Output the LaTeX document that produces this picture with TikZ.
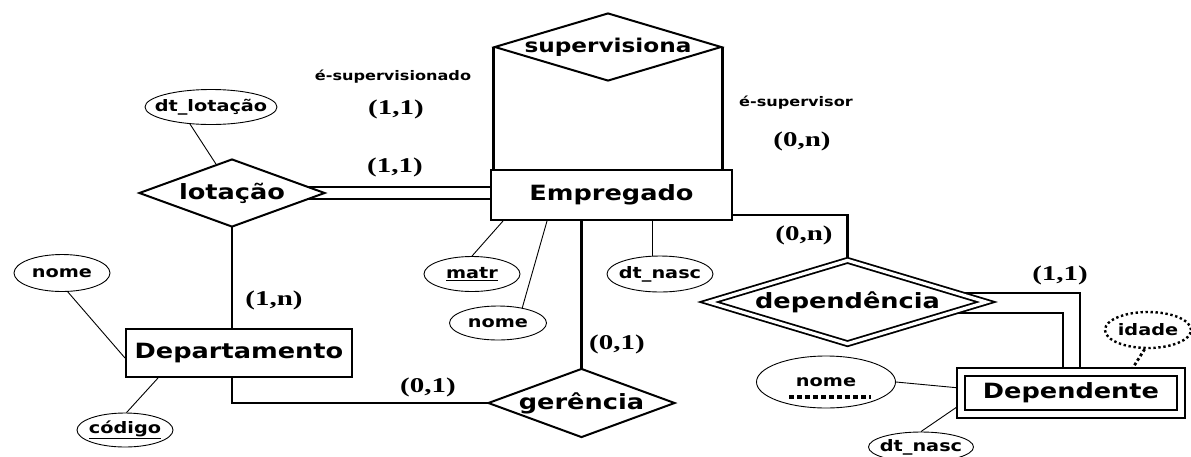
\documentclass[tikz,border=0pt]{standalone}
\usepackage{fontspec}
\usetikzlibrary{shapes.geometric,backgrounds}
\newfontfamily\ersans[FakeStretch=1.22]{DejaVu Sans}
\newfontfamily\erserif[FakeStretch=1.38]{Liberation Serif}
\tikzset{
 ent/.style={draw, line width=2pt, fill=white, inner sep=0pt, font=\ersans\bfseries\fontsize{21}{24}\selectfont},
 rel/.style={diamond, draw, line width=2pt, fill=white, inner sep=0pt, font=\ersans\bfseries\fontsize{21}{24}\selectfont},
 attr/.style={ellipse, draw, line width=0.9pt, fill=white, inner sep=0pt, font=\ersans\bfseries\fontsize{15.8}{18}\selectfont},
 card/.style={inner sep=0pt, font=\erserif\bfseries\fontsize{21}{24}\selectfont},
 role/.style={inner sep=0pt, font=\ersans\bfseries\fontsize{13.2}{15}\selectfont},
 conn/.style={line width=2.2pt},
 alink/.style={line width=0.9pt},
 weakrel/.style={double, double distance=3.2pt, line width=1.8pt},
 weakent/.style={double, double distance=6pt, line width=1.9pt},
 dotline/.style={line width=2.8pt, dash pattern=on 2.8pt off 2.6pt},
 dotattr/.style={line width=2.4pt, dash pattern=on 2.4pt off 2.6pt}
}
\begin{document}
\begin{tikzpicture}[x=1pt,y=-1pt]
\useasboundingbox (0,0) rectangle (1191,456);
% entities and relationships
\node[rel, minimum width=227pt, minimum height=68pt, font=\ersans\bfseries\fontsize{19}{22}\selectfont] (sup) at (608,47) {\makebox[0pt]{supervisiona}};
\node[ent, minimum width=241pt, minimum height=50pt] (emp) at (611.5,195) {Empregado};
\node[rel, minimum width=186pt, minimum height=68pt] (lot) at (232,193) {\makebox[0pt]{lotação}};
\node[ent, minimum width=226pt, minimum height=48pt] (dept) at (239,353) {Departamento};
\node[rel, minimum width=187pt, minimum height=69pt] (ger) at (581.5,403) {\makebox[0pt]{gerência}};
\node[rel, weakrel, minimum width=278pt, minimum height=84pt] (dep) at (847.5,302) {\makebox[0pt]{dependência}};
\node[ent, weakent, minimum width=220.5pt, minimum height=41.5pt] (dnt) at (1071,393) {Dependente};
% attributes
\node[attr, minimum width=132pt, minimum height=35pt] (dtl) at (211,107) {\makebox[0pt]{dt\_lotação}};
\node[attr, minimum width=96pt, minimum height=37pt] (dnome) at (62,273) {\makebox[0pt]{nome}};
\node[attr, minimum width=96pt, minimum height=34pt] (cod) at (125,430) {\makebox[0pt]{\underline{código}}};
\node[attr, minimum width=96pt, minimum height=35pt] (matr) at (472,274) {\makebox[0pt]{\underline{matr}}};
\node[attr, minimum width=97pt, minimum height=34pt] (enome) at (498,323) {\makebox[0pt]{nome}};
\node[attr, minimum width=106pt, minimum height=36pt] (edtn) at (660,274) {\makebox[0pt]{dt\_nasc}};
\node[attr, minimum width=139pt, minimum height=52pt] (pnome) at (826,382) {\makebox[0pt]{nome}};
\node[attr, minimum width=105pt, minimum height=30pt] (pdtn) at (921,447) {\makebox[0pt]{dt\_nasc}};
\node[attr, dotattr, minimum width=86pt, minimum height=36pt] (idade) at (1148,330) {\makebox[0pt]{idade}};
% labels
\node[role] (r1) at (393,77) {é-supervisionado};
\node[card] (c1) at (396,109) {(1,1)};
\node[card] (c2) at (395,167) {(1,1)};
\node[role] (r2) at (796,103) {é-supervisor};
\node[card] (c3) at (802,141) {(0,n)};
\node[card] (c4) at (804,235) {(0,n)};
\node[card] (c5) at (1060,275) {(1,1)};
\node[card] (c6) at (274,300) {(1,n)};
\node[card] (c7) at (617,344) {(0,1)};
\node[card] (c8) at (428,387) {(0,1)};
% partial-key underline
\draw[line width=4pt, dash pattern=on 5pt off 3pt] ([xshift=-37pt,yshift=-15pt]pnome.center) -- ([xshift=45pt,yshift=-15pt]pnome.center);
\begin{scope}[on background layer]
\draw[conn] (sup.west) -- (sup.west |- emp.center);
\draw[conn] (sup.east) -- (sup.east |- emp.center);
\draw[conn] ([yshift=6pt]lot.center) -- ([yshift=6pt]lot.center -| emp.center);
\draw[conn] ([yshift=-6pt]lot.center) -- ([yshift=-6pt]lot.center -| emp.center);
\draw[conn] (lot.center) -- (lot.center |- dept.center);
\draw[conn] (lot.center |- dept.center) |- (ger.center);
\draw[conn] (ger.center |- emp.center) -- (ger.center);
\draw[conn] ([yshift=-20pt]emp.center) -| (dep.center);
\draw[conn] ([yshift=9pt]dep.center) -| ([xshift=9pt]dnt.center);
\draw[conn] ([yshift=-11pt]dep.center) -| ([xshift=-8pt]dnt.center);
\draw[alink] (dtl.219) -- (lot.119.5);
\draw[alink] (dnome.-73) -- ([yshift=-5pt]dept.west);
\draw[alink] (cod.85) -- ([xshift=-81pt]dept.south);
\draw[alink] (matr.north) -- ([xshift=-108.5pt]emp.south);
\draw[alink] (enome.32) -- ([xshift=-64.5pt]emp.south);
\draw[alink] ([xshift=-8pt]edtn.center) -- ([xshift=-8pt]edtn.center |- emp.center);
\draw[alink] (pnome.east) -- ([yshift=5pt]dnt.west);
\draw[alink] (pdtn.north) -- ([yshift=-12pt]dnt.west);
\draw[dotline] (idade.-100) -- ([xshift=46pt]dnt.center);
\end{scope}
\end{tikzpicture}
\end{document}
